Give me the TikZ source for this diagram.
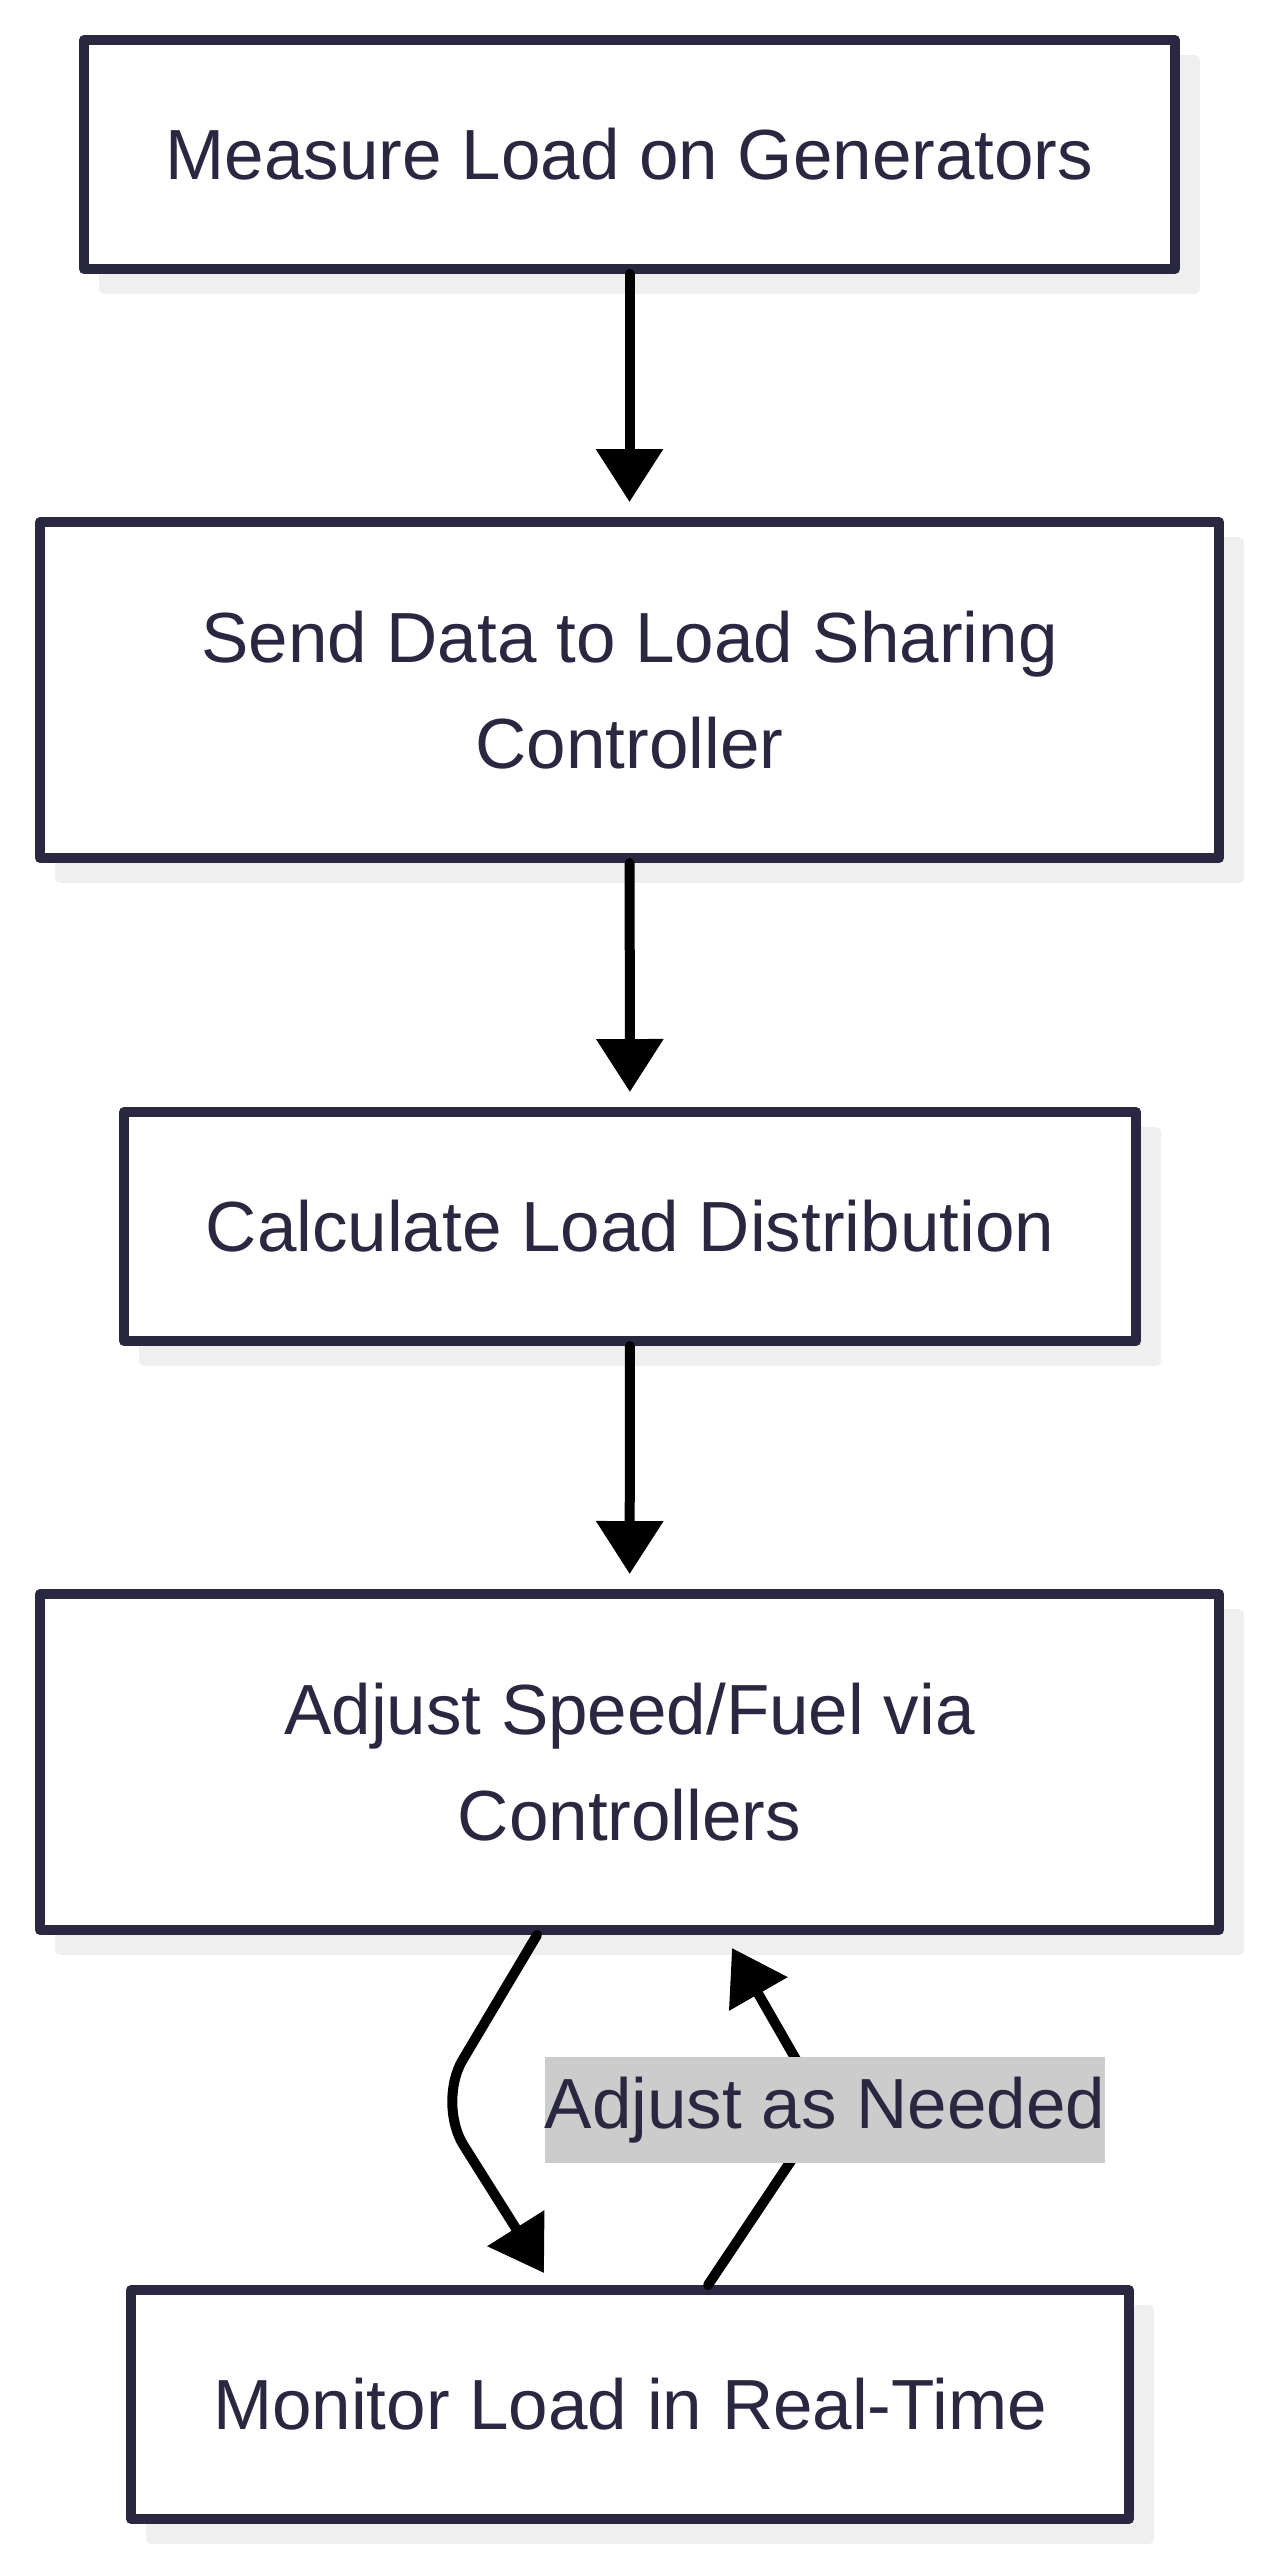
\documentclass[tikz,border=0pt]{standalone}
\usepackage{fontspec}
\setmainfont{Liberation Sans}
\usetikzlibrary{arrows.meta,shadows}
\definecolor{ink}{HTML}{292840}
\definecolor{shade}{HTML}{EFEFEF}
\definecolor{lblgray}{HTML}{CCCCCC}
\begin{document}
\begin{tikzpicture}[line join=round, line cap=round, font=\fontsize{20.2pt}{30.3pt}\selectfont,
  >={Triangle[length=5.3mm,width=6.5mm]},
  stage/.style={draw=ink, line width=1mm, fill=white, text=ink, inner sep=0pt, align=center, minimum height=2.29cm,
    general shadow={fill=shade, draw=shade, shadow xshift=2mm, shadow yshift=-2mm}},
  flow/.style={->, line width=1mm, black},
  note/.style={fill=lblgray, text=ink, inner xsep=0pt, minimum height=1.06cm}]
\useasboundingbox (0,0) rectangle (12.6,-25.6);
%\draw[color=gray!50,dashed] (0,-25.6) grid (12.6,0);
\node[stage, minimum width=10.91cm] (b1) at (6.295,-1.545) {Measure Load on Generators};
\node[stage, minimum width=11.79cm, minimum height=3.36cm] (b2) at (6.295,-6.90) {Send Data to Load Sharing\\Controller};
\node[stage, minimum width=10.12cm] (b3) at (6.30,-12.265) {Calculate Load Distribution};
\node[stage, minimum width=11.79cm, minimum height=3.36cm] (b4) at (6.295,-17.62) {Adjust Speed/Fuel via\\Controllers};
\node[stage, minimum width=9.98cm] (b5) at (6.30,-24.045) {Monitor Load in Real-Time};
\draw[flow, shorten >=1.5mm] (b1) -- (b2);
\draw[flow, shorten >=1.5mm] (b2) -- (b3);
\draw[flow, shorten >=1.5mm] (b3) -- (b4);
% loop back and forth
\coordinate (bendL) at (4.37,-21.03);
\coordinate (bendR) at (8.25,-21.10);
\draw[flow, rounded corners=5mm] ([xshift=-9.25mm]b4.south) -- (bendL) -- ([xshift=-8.6mm,yshift=1.2mm]b5.north);
\draw[flow, rounded corners=5mm] ([xshift=7.8mm]b5.north) -- (bendR) -- ([xshift=10.25mm,yshift=-1.3mm]b4.south);
\node[note] (lbl) at (bendR) {Adjust as Needed};
\end{tikzpicture}
\end{document}
